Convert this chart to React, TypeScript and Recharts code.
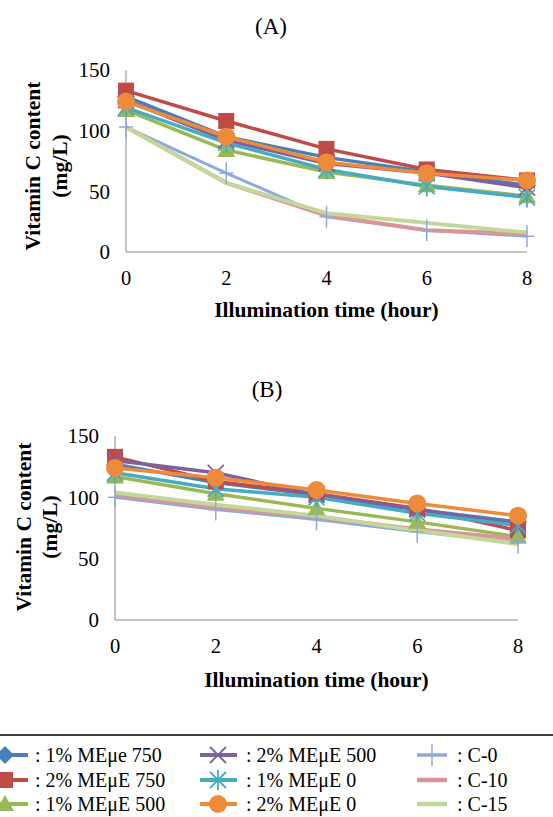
import { Line, LineChart, XAxis, YAxis } from "recharts";

const hours = [0, 2, 4, 6, 8];
const yTicks = [0, 50, 100, 150];

// panel (A)
const a1pct750 = [128, 95, 78, 66, 55];
const a2pct750 = [133, 108, 85, 68, 59];
const a1pct500 = [117, 84, 66, 55, 46];
const a2pct500 = [125, 92, 73, 65, 53];
const a1pct0 = [119, 90, 68, 54, 45];
const a2pct0 = [124, 95, 74, 65, 59];
const aC0 = [103, 65, 29, 18, 13];
const aC10 = [103, 57, 30, 18, 15];
const aC15 = [103, 57, 32, 24, 16];

// panel (B)
const b1pct750 = [127, 112, 102, 90, 80];
const b2pct750 = [133, 113, 103, 91, 73];
const b1pct500 = [117, 103, 91, 80, 68];
const b2pct500 = [130, 120, 102, 90, 78];
const b1pct0 = [120, 107, 100, 87, 77];
const b2pct0 = [124, 116, 106, 95, 85];
const bC0 = [100, 90, 82, 72, 63];
const bC10 = [102, 92, 84, 74, 66];
const bC15 = [104, 94, 85, 73, 62];

const seriesNames = [
  ": 1% MEμe 750",
  ": 2% MEμE 750",
  ": 1% MEμE 500",
  ": 2% MEμE 500",
  ": 1% MEμE 0",
  ": 2% MEμE 0",
  ": C-0",
  ": C-10",
  ": C-15",
];

type Shape = "diamond" | "square" | "triangle" | "x" | "star" | "circle" | "plus" | "none";

const styles: { key: string; color: string; shape: Shape; width: number }[] = [
  { key: "s1", color: "#4a7ebb", shape: "diamond", width: 3.5 },
  { key: "s2", color: "#be4b48", shape: "square", width: 3.5 },
  { key: "s3", color: "#98b954", shape: "triangle", width: 3.5 },
  { key: "s4", color: "#7d60a0", shape: "x", width: 3.5 },
  { key: "s5", color: "#46aac5", shape: "star", width: 3.5 },
  { key: "s6", color: "#ee8b3a", shape: "circle", width: 3.5 },
  { key: "s7", color: "#8eaadb", shape: "plus", width: 3 },
  { key: "s8", color: "#d99694", shape: "none", width: 4 },
  { key: "s9", color: "#c3d69b", shape: "none", width: 4 },
];

const font = "Liberation Serif, Times New Roman, DejaVu Serif, serif";
const serif = { fontFamily: font };

function buildRows(cols: number[][]) {
  return hours.map((t, i) => {
    const row: Record<string, number> = { t };
    cols.forEach((c, j) => (row[`s${j + 1}`] = c[i]));
    return row;
  });
}

const dataA = buildRows([a1pct750, a2pct750, a1pct500, a2pct500, a1pct0, a2pct0, aC0, aC10, aC15]);
const dataB = buildRows([b1pct750, b2pct750, b1pct500, b2pct500, b1pct0, b2pct0, bC0, bC10, bC15]);

function Marker({ shape, color, cx, cy }: { shape: Shape; color: string; cx: number; cy: number }) {
  switch (shape) {
    case "diamond":
      return <polygon points={`${cx},${cy - 9} ${cx + 9},${cy} ${cx},${cy + 9} ${cx - 9},${cy}`} fill={color} />;
    case "square":
      return <rect x={cx - 8} y={cy - 8} width={16} height={16} fill={color} />;
    case "triangle":
      return <polygon points={`${cx},${cy - 9} ${cx + 9},${cy + 7} ${cx - 9},${cy + 7}`} fill={color} />;
    case "x":
      return (
        <g stroke={color} strokeWidth={1.8}>
          <line x1={cx - 8} y1={cy - 8} x2={cx + 8} y2={cy + 8} />
          <line x1={cx - 8} y1={cy + 8} x2={cx + 8} y2={cy - 8} />
        </g>
      );
    case "star":
      return (
        <g stroke={color} strokeWidth={1.8}>
          <line x1={cx - 8} y1={cy - 8} x2={cx + 8} y2={cy + 8} />
          <line x1={cx - 8} y1={cy + 8} x2={cx + 8} y2={cy - 8} />
          <line x1={cx} y1={cy - 10} x2={cx} y2={cy + 10} />
        </g>
      );
    case "circle":
      return <circle cx={cx} cy={cy} r={9} fill={color} />;
    case "plus":
      return (
        <g stroke={color} strokeWidth={1.5}>
          <line x1={cx} y1={cy - 11} x2={cx} y2={cy + 11} />
          <line x1={cx - 7} y1={cy} x2={cx + 7} y2={cy} />
        </g>
      );
    default:
      return null;
  }
}

function dotFor(shape: Shape, color: string) {
  if (shape === "none") return false;
  return (props: any) => (
    <g key={`d-${props.index}`}>
      <Marker shape={shape} color={color} cx={props.cx} cy={props.cy} />
    </g>
  );
}

function YTitle(x1: number, x2: number, cy: number) {
  return () => (
    <g style={serif} fontWeight="bold" fontSize={21.5} fill="#000">
      <text x={x1} y={cy} textAnchor="middle" dominantBaseline="central" transform={`rotate(-90 ${x1} ${cy})`}>
        Vitamin C content
      </text>
      <text x={x2} y={cy} textAnchor="middle" dominantBaseline="central" transform={`rotate(-90 ${x2} ${cy})`}>
        (mg/L)
      </text>
    </g>
  );
}

function Panel({
  data,
  top,
  plotTop,
  plotBottom,
  plotLeft,
  plotRight,
  title,
  titleX,
  titleY,
  yx1,
  yx2,
  yCenter,
  xTitleY,
}: {
  data: Record<string, number>[];
  top: number;
  plotTop: number;
  plotBottom: number;
  plotLeft: number;
  plotRight: number;
  title: string;
  titleX: number;
  titleY: number;
  yx1: number;
  yx2: number;
  yCenter: number;
  xTitleY: number;
}) {
  const height = 340;
  const yWidth = 60;
  const xHeight = 30;
  return (
    <div style={{ position: "absolute", left: 0, top }}>
      <LineChart
        width={553}
        height={height}
        data={data}
        style={serif}
        margin={{
          top: plotTop - top,
          left: plotLeft - yWidth,
          right: 553 - plotRight,
          bottom: height - (plotBottom - top) - xHeight,
        }}
      >
        <text x={titleX} y={titleY - top} textAnchor="middle" dominantBaseline="central" style={serif} fontSize={23}>
          {title}
        </text>
        <text
          x={(plotLeft + plotRight) / 2}
          y={xTitleY - top}
          textAnchor="middle"
          dominantBaseline="central"
          style={serif}
          fontSize={21.5}
          fontWeight="bold"
        >
          Illumination time (hour)
        </text>
        <XAxis
          type="number"
          dataKey="t"
          domain={[0, 8]}
          ticks={hours}
          height={xHeight}
          stroke="#8a8a8a"
          tickLine={false}
          tickSize={16}
          tick={{ fill: "#000", fontSize: 20.5, style: serif }}
        />
        <YAxis
          type="number"
          domain={[0, 150]}
          ticks={yTicks}
          width={yWidth}
          stroke="#8a8a8a"
          tickLine={false}
          tickSize={14}
          tick={{ fill: "#000", fontSize: 21, style: serif }}
          label={{ content: YTitle(yx1, yx2, yCenter - top) }}
        />
        {styles.map((s) => (
          <Line
            key={s.key}
            dataKey={s.key}
            type="linear"
            stroke={s.color}
            strokeWidth={s.width}
            dot={dotFor(s.shape, s.color)}
            activeDot={false}
            isAnimationActive={false}
          />
        ))}
      </LineChart>
    </div>
  );
}

const legendCols = [
  { lineX: 0, lineW: 28, markX: 5, textX: 35 },
  { lineX: 200, lineW: 37, markX: 218, textX: 246 },
  { lineX: 417, lineW: 30, markX: 432, textX: 457 },
];
const legendRows = [755, 780, 804];

function LegendBlock() {
  return (
    <div style={{ position: "absolute", left: 0, top: 0 }}>
      <svg width={553} height={817} style={{ display: "block" }}>
        <line x1={0} y1={735} x2={553} y2={735} stroke="#000" strokeWidth={1.5} />
        {styles.map((s, i) => {
          const col = legendCols[Math.floor(i / 3)];
          const y = legendRows[i % 3];
          return (
            <g key={s.key}>
              <line x1={col.lineX} y1={y} x2={col.lineX + col.lineW} y2={y} stroke={s.color} strokeWidth={s.width + 0.5} />
              <Marker shape={s.shape} color={s.color} cx={col.markX} cy={y} />
              <text x={col.textX} y={y} dominantBaseline="central" style={serif} fontSize={20} fill="#000">
                {seriesNames[i]}
              </text>
            </g>
          );
        })}
      </svg>
    </div>
  );
}

export default function App() {
  return (
    <div style={{ position: "absolute", left: 0, top: 0, width: 553, height: 817, background: "#fff", ...serif }}>
      <LegendBlock />
      <Panel
        data={dataA}
        top={0}
        plotTop={70}
        plotBottom={252}
        plotLeft={126}
        plotRight={527}
        title="(A)"
        titleX={271}
        titleY={26}
        yx1={33}
        yx2={60}
        yCenter={166}
        xTitleY={310}
      />
      <Panel
        data={dataB}
        top={365}
        plotTop={436}
        plotBottom={620}
        plotLeft={115}
        plotRight={518}
        title="(B)"
        titleX={267}
        titleY={389}
        yx1={24}
        yx2={50}
        yCenter={527}
        xTitleY={680}
      />
    </div>
  );
}
